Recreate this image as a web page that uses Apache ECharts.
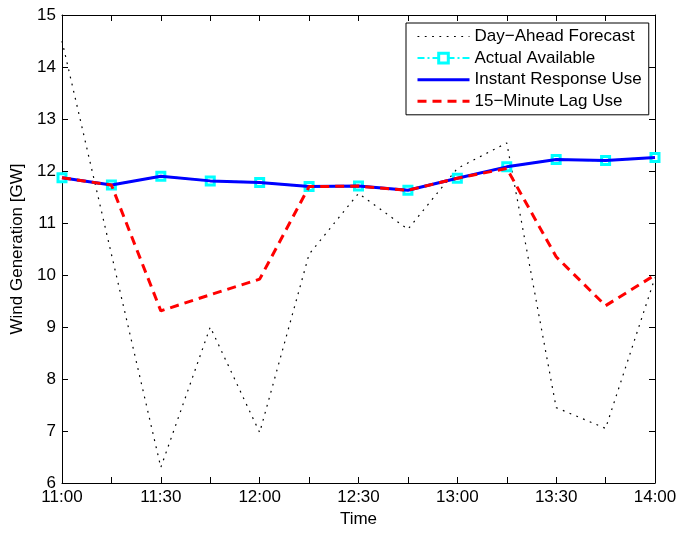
<!DOCTYPE html>
<html>
<head>
<meta charset="utf-8">
<script src="https://cdn.jsdelivr.net/npm/echarts@6/dist/echarts.min.js"></script>
<style>
html,body{margin:0;padding:0;background:#fff;}
#chart{width:680px;height:533px;}
</style>
</head>
<body>
<div id="chart"></div>
<script>
const categories = ['11:00','11:15','11:30','11:45','12:00','12:15','12:30','12:45','13:00','13:15','13:30','13:45','14:00'];
const forecastValues = [14.5, 10.4, 6.3, 9.0, 6.97, 10.4, 11.57, 10.88, 12.05, 12.54, 7.45, 7.05, 9.95];
const actualValues = [11.87, 11.73, 11.90, 11.81, 11.78, 11.70, 11.71, 11.63, 11.86, 12.08, 12.22, 12.20, 12.26];
const instantValues = [11.87, 11.73, 11.90, 11.81, 11.78, 11.70, 11.71, 11.63, 11.86, 12.08, 12.22, 12.20, 12.26];
const lagValues = [11.87, 11.73, 9.31, 9.62, 9.92, 11.70, 11.71, 11.63, 11.86, 12.05, 10.35, 9.41, 10.0];
const seriesNames = ['Day\u2212Ahead Forecast', 'Actual Available', 'Instant Response Use', '15\u2212Minute Lag Use'];
const yMin = 6, yMax = 15, yStep = 1;

const FONT = 'Liberation Sans, Arial, Helvetica, sans-serif';
const FS = 17;

const chart = echarts.init(document.getElementById('chart'), null, {renderer: 'canvas'});
const axisLineStyle = {show: true, lineStyle: {color: '#000', width: 1}};
const noSym = {opacity: 0};
const option = {
  backgroundColor: '#fff',
  animation: false,
  grid: {left: 62, right: 25, top: 15, bottom: 50, containLabel: false},
  legend: {
    orient: 'vertical',
    left: 406,
    top: 23,
    padding: [5, 7, 5, 10],
    itemGap: 4.6,
    itemWidth: 52,
    itemHeight: 12,
    borderColor: '#000',
    borderWidth: 1,
    backgroundColor: '#fff',
    textStyle: {fontFamily: FONT, fontSize: FS, color: '#000'},
    data: [
      {name: seriesNames[0], itemStyle: noSym, lineStyle: {width: 1.2}},
      {name: seriesNames[1], itemStyle: {color: '#fff', borderColor: '#00ffff', borderWidth: 3}, lineStyle: {width: 2}},
      {name: seriesNames[2], itemStyle: noSym, lineStyle: {width: 3}},
      {name: seriesNames[3], itemStyle: noSym, lineStyle: {width: 3}}
    ]
  },
  xAxis: [
    {
      type: 'category', data: categories, boundaryGap: false, position: 'bottom',
      name: 'Time', nameLocation: 'middle', nameGap: 27,
      nameTextStyle: {fontFamily: FONT, fontSize: FS, color: '#000'},
      axisLine: axisLineStyle,
      axisTick: {show: true, inside: true, length: 6, interval: 0, lineStyle: {color: '#000'}},
      axisLabel: {interval: 1, margin: 6, fontFamily: FONT, fontSize: FS, color: '#000'},
      splitLine: {show: false}
    },
    {
      type: 'category', data: categories, boundaryGap: false, position: 'top',
      axisLine: axisLineStyle,
      axisTick: {show: true, inside: true, length: 6, interval: 0, lineStyle: {color: '#000'}},
      axisLabel: {show: false},
      splitLine: {show: false}
    }
  ],
  yAxis: [
    {
      type: 'value', min: yMin, max: yMax, interval: yStep, position: 'left',
      name: 'Wind Generation [GW]', nameLocation: 'middle', nameGap: 33,
      nameTextStyle: {fontFamily: FONT, fontSize: FS, color: '#000'},
      axisLine: axisLineStyle,
      axisTick: {show: true, inside: true, length: 6, lineStyle: {color: '#000'}},
      axisLabel: {margin: 6, fontFamily: FONT, fontSize: FS, color: '#000'},
      splitLine: {show: false}
    },
    {
      type: 'value', min: yMin, max: yMax, interval: yStep, position: 'right',
      axisLine: axisLineStyle,
      axisTick: {show: true, inside: true, length: 6, lineStyle: {color: '#000'}},
      axisLabel: {show: false},
      splitLine: {show: false}
    }
  ],
  series: [
    {
      name: seriesNames[0], type: 'line', data: forecastValues,
      symbol: 'none', z: 2,
      lineStyle: {color: '#000', width: 1.2, type: [1.8, 5.5]},
      itemStyle: {color: '#000'}
    },
    {
      name: seriesNames[1], type: 'line', data: actualValues,
      symbol: 'rect', symbolSize: 8, showSymbol: true, showAllSymbol: true, z: 3,
      lineStyle: {color: '#00ffff', width: 2, type: [7, 3, 2, 3]},
      itemStyle: {color: '#fff', borderColor: '#00ffff', borderWidth: 3}
    },
    {
      name: seriesNames[2], type: 'line', data: instantValues,
      symbol: 'none', z: 4,
      lineStyle: {color: '#0000ff', width: 3},
      itemStyle: {color: '#0000ff'}
    },
    {
      name: seriesNames[3], type: 'line', data: lagValues,
      symbol: 'none', z: 5,
      lineStyle: {color: '#ff0000', width: 3, type: [9, 6]},
      itemStyle: {color: '#ff0000'}
    }
  ]
};
chart.setOption(option);
</script>
</body>
</html>
